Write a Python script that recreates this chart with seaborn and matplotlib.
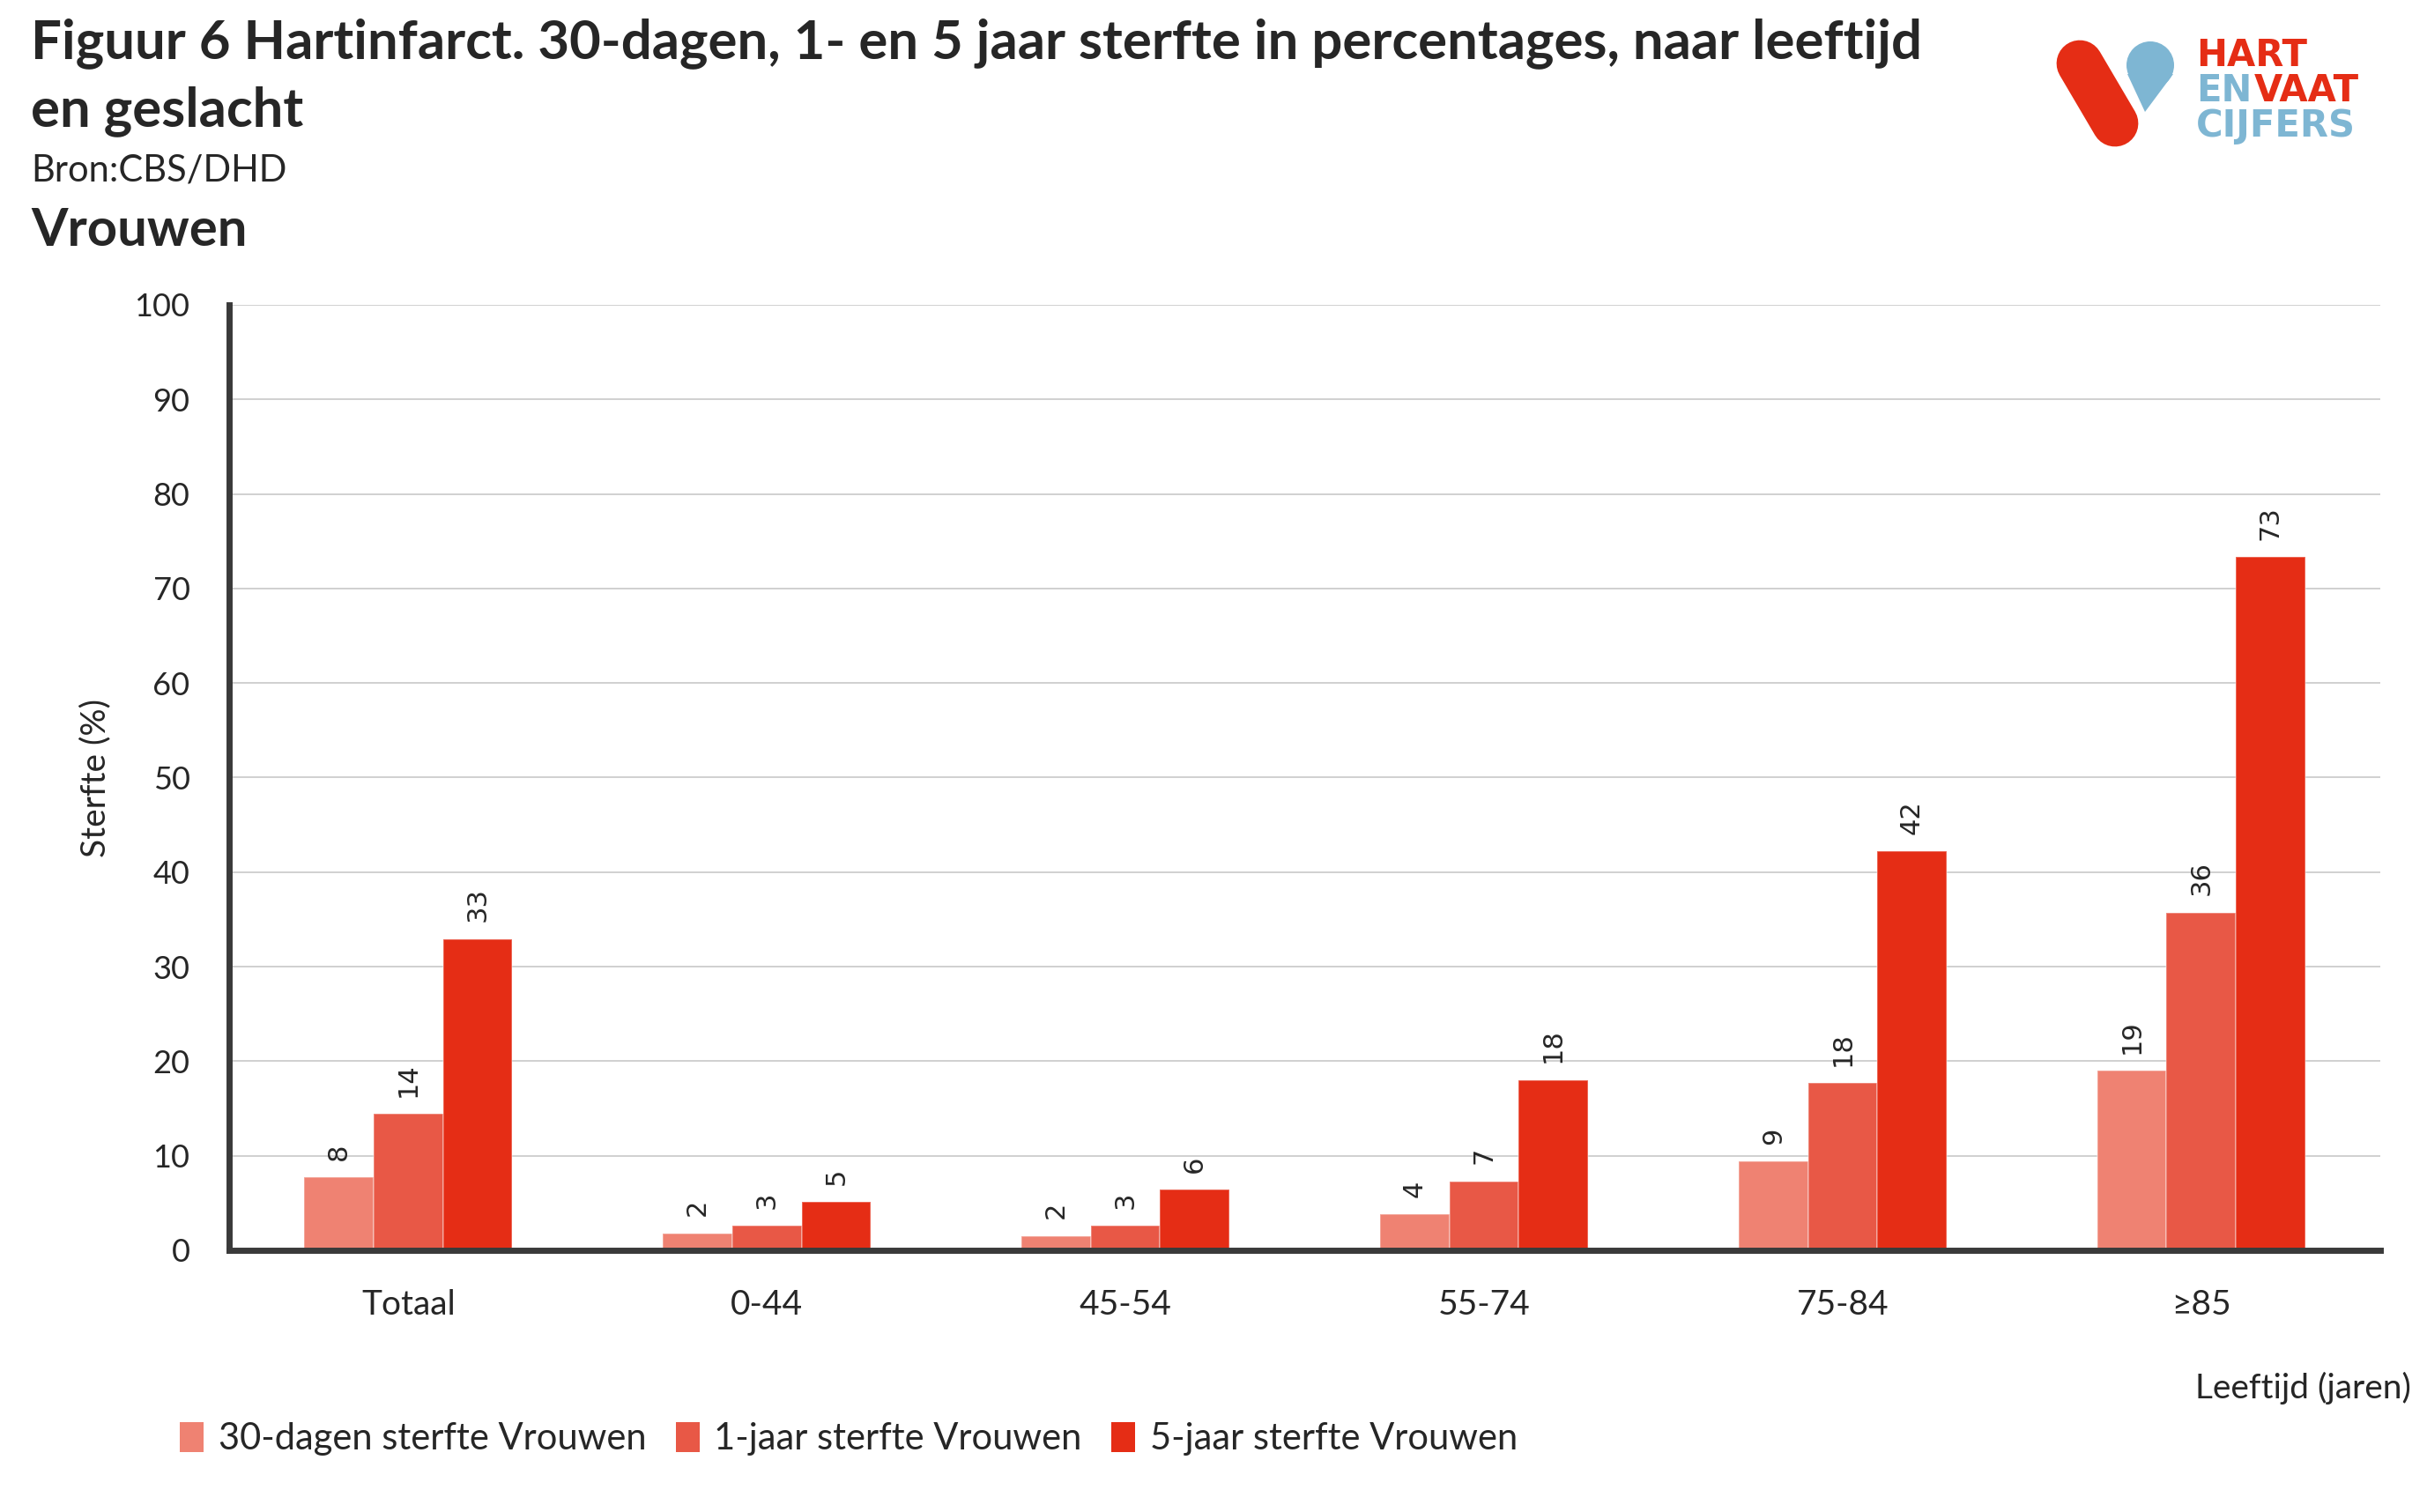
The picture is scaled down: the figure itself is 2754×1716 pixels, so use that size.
import pandas as pd
import matplotlib
matplotlib.use('Agg')
import matplotlib.pyplot as plt
import seaborn as sns
from matplotlib.patches import Patch, Circle, Polygon

# data
leeftijd = ['Totaal', '0-44', '45-54', '55-74', '75-84', '≥85']
sterfte_30d = [7.7, 1.8, 1.5, 3.8, 9.4, 19.0]
sterfte_1j = [14.4, 2.6, 2.6, 7.3, 17.7, 35.7]
sterfte_5j = [32.9, 5.1, 6.4, 18.0, 42.2, 73.3]
reeksen = ['30-dagen sterfte Vrouwen', '1-jaar sterfte Vrouwen', '5-jaar sterfte Vrouwen']
kleuren = ['#EF8272', '#E85846', '#E52D15']

rows = []
for naam, waarden in zip(reeksen, [sterfte_30d, sterfte_1j, sterfte_5j]):
    for cat, v in zip(leeftijd, waarden):
        rows.append({'leeftijd': cat, 'sterfte': v, 'reeks': naam})
df = pd.DataFrame(rows)

sns.set_style('white')
plt.rcParams['font.family'] = ['Lato', 'DejaVu Sans']

fig = plt.figure(figsize=(13.77, 8.58), dpi=200)
ax = fig.add_axes([0.0944, 0.1731, 0.8864, 0.6253])

sns.barplot(data=df, x='leeftijd', y='sterfte', hue='reeks', palette=kleuren,
            order=leeftijd, hue_order=reeksen, width=0.58, saturation=1,
            edgecolor=(1, 1, 1, 0.35), linewidth=0.6, ax=ax, legend=False)

for cont in ax.containers:
    ax.bar_label(cont, labels=[f'{b.get_height():.0f}' for b in cont], rotation=90,
                 padding=7, fontsize=11, family='DejaVu Sans')

ax.set_ylim(0, 100)
ax.set_xlim(-0.5, 5.5)
ax.set_yticks(range(0, 101, 10))
ax.yaxis.grid(True, color='#D0D0D0', linewidth=0.7)
ax.set_axisbelow(True)
for s in ['top', 'right']:
    ax.spines[s].set_visible(False)
for s in ['left', 'bottom']:
    ax.spines[s].set_color('#3A3A3A')
    ax.spines[s].set_linewidth(2.5)
ax.set_xlabel('')
ax.set_ylabel('')
ax.tick_params(axis='y', length=0, pad=16, labelsize=13)
ax.tick_params(axis='x', length=0, pad=16, labelsize=14)
ax.set_xticks([i + 0.5 for i in range(6)], minor=True)
ax.tick_params(axis='x', which='minor', direction='in', length=5, width=1.5, color='#3A3A3A')

fig.text(0.0395, 1 - 503 / 977, 'Sterfte (%)', rotation=90, ha='center', va='center', fontsize=14)
fig.text(0.9936, 1 - 897 / 977, 'Leeftijd (jaren)', ha='right', va='center', fontsize=14)

# titels
fig.text(0.0128, 1 - 28 / 977, 'Figuur 6 Hartinfarct. 30-dagen, 1- en 5 jaar sterfte in percentages, naar leeftijd',
         fontsize=22.2, fontweight='bold', va='center')
fig.text(0.0128, 1 - 72 / 977, 'en geslacht', fontsize=22.2, fontweight='bold', va='center')
fig.text(0.0128, 1 - 110 / 977, 'Bron:CBS/DHD', fontsize=15, va='center')
fig.text(0.0128, 1 - 149 / 977, 'Vrouwen', fontsize=21.5, fontweight='bold', va='center')

# legenda
handles = [Patch(facecolor=c, edgecolor='none') for c in kleuren]
fig.legend(handles, reeksen, loc='center left', bbox_to_anchor=(0.068, 1 - 930 / 977), ncol=3,
           frameon=False, fontsize=15, handlelength=0.65, handleheight=0.85, handletextpad=0.4,
           columnspacing=0.8, borderaxespad=0)

# logo
lax = fig.add_axes([0, 0, 1, 1], zorder=5)
lax.set_xlim(0, 2754)
lax.set_ylim(1716, 0)
lax.axis('off')
lax.plot([2360, 2400], [72, 140], color='#E52D15', lw=19, solid_capstyle='round')
lax.add_patch(Circle((2440, 74), 27, color='#7EB6D3', lw=0))
lax.add_patch(Polygon([[2414, 84], [2466, 84], [2434, 127]], closed=True, color='#7EB6D3', lw=0))
logo_font = dict(fontsize=15, fontweight='bold', va='center', ha='left', family='DejaVu Sans')
lax.text(2492, 63, 'HART', color='#E52D15', **logo_font)
lax.text(2492, 103, 'EN', color='#7EB6D3', **logo_font)
lax.text(2558, 103, 'VAAT', color='#E52D15', **logo_font)
lax.text(2492, 143, 'CIJFERS', color='#7EB6D3', **logo_font)

fig.savefig('out.png', dpi=200)
